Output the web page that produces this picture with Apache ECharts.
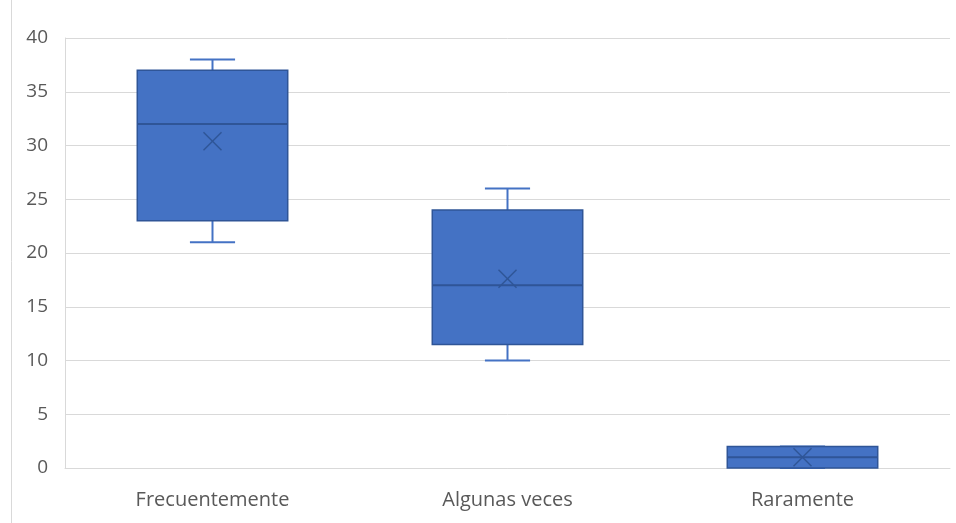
<!DOCTYPE html>
<html>
<head>
<meta charset="utf-8">
<script src="https://cdn.jsdelivr.net/npm/echarts@6/dist/echarts.min.js"></script>
<style>
  html, body { margin: 0; padding: 0; background: #ffffff; }
  #main { width: 956px; height: 523px; }
</style>
</head>
<body>
<div id="main"></div>
<script>
// datos del diagrama de caja
var categories = ['Frecuentemente', 'Algunas veces', 'Raramente'];
var mins = [21, 10, 0];
var q1s = [23, 11.5, 0];
var medians = [32, 17, 1];
var q3s = [37, 24, 2];
var maxs = [38, 26, 2];
var means = [30.4, 17.6, 1];

var boxFill = '#4472C4';
var boxLine = '#2F5597';

var rows = categories.map(function (c, i) {
  return [i, mins[i], q1s[i], medians[i], q3s[i], maxs[i], means[i]];
});

function renderBox(params, api) {
  var x = api.value(0);
  var pMin = api.coord([x, api.value(1)]);
  var pQ1 = api.coord([x, api.value(2)]);
  var pMed = api.coord([x, api.value(3)]);
  var pQ3 = api.coord([x, api.value(4)]);
  var pMax = api.coord([x, api.value(5)]);
  var pMean = api.coord([x, api.value(6)]);
  var bw = api.size([1, 0])[0] * 0.51;
  var cap = bw * 0.3;
  var cx = pMed[0];
  var m = 9;
  var lineStyle = { stroke: boxFill, lineWidth: 2 };
  return {
    type: 'group',
    children: [
      { type: 'line', shape: { x1: cx, y1: pMax[1], x2: cx, y2: pQ3[1] }, style: lineStyle },
      { type: 'line', shape: { x1: cx, y1: pMin[1], x2: cx, y2: pQ1[1] }, style: lineStyle },
      { type: 'line', shape: { x1: cx - cap / 2, y1: pMax[1], x2: cx + cap / 2, y2: pMax[1] }, style: lineStyle },
      { type: 'line', shape: { x1: cx - cap / 2, y1: pMin[1], x2: cx + cap / 2, y2: pMin[1] }, style: lineStyle },
      {
        type: 'rect',
        shape: { x: cx - bw / 2, y: pQ3[1], width: bw, height: pQ1[1] - pQ3[1] },
        style: { fill: boxFill, stroke: boxLine, lineWidth: 1.5 }
      },
      { type: 'line', shape: { x1: cx - bw / 2, y1: pMed[1], x2: cx + bw / 2, y2: pMed[1] }, style: { stroke: boxLine, lineWidth: 2 } },
      { type: 'line', shape: { x1: pMean[0] - m, y1: pMean[1] - m, x2: pMean[0] + m, y2: pMean[1] + m }, style: { stroke: boxLine, lineWidth: 1.5 } },
      { type: 'line', shape: { x1: pMean[0] - m, y1: pMean[1] + m, x2: pMean[0] + m, y2: pMean[1] - m }, style: { stroke: boxLine, lineWidth: 1.5 } }
    ]
  };
}

var chart = echarts.init(document.getElementById('main'));
var option = {
  backgroundColor: '#ffffff',
  animation: false,
  textStyle: { fontFamily: 'Open Sans' },
  graphic: [{
    type: 'line',
    shape: { x1: 11.5, y1: 0, x2: 11.5, y2: 523 },
    style: { stroke: '#d9d9d9', lineWidth: 1 }
  }],
  grid: { left: 65, right: 6, top: 38, bottom: 55 },
  xAxis: {
    type: 'category',
    data: categories,
    axisLine: { lineStyle: { color: '#d9d9d9' } },
    axisTick: { show: false },
    axisLabel: { color: '#595959', fontSize: 20, margin: 22 },
    splitLine: { show: false }
  },
  yAxis: {
    type: 'value',
    min: 0,
    max: 40,
    interval: 5,
    axisLine: { show: true, lineStyle: { color: '#d9d9d9' } },
    axisTick: { show: false },
    axisLabel: { color: '#595959', fontSize: 19, margin: 17 },
    splitLine: { lineStyle: { color: '#d9d9d9', width: 1 } }
  },
  series: [{
    type: 'custom',
    renderItem: renderBox,
    encode: { x: 0, y: [1, 2, 3, 4, 5] },
    data: rows
  }]
};
chart.setOption(option);
</script>
</body>
</html>
